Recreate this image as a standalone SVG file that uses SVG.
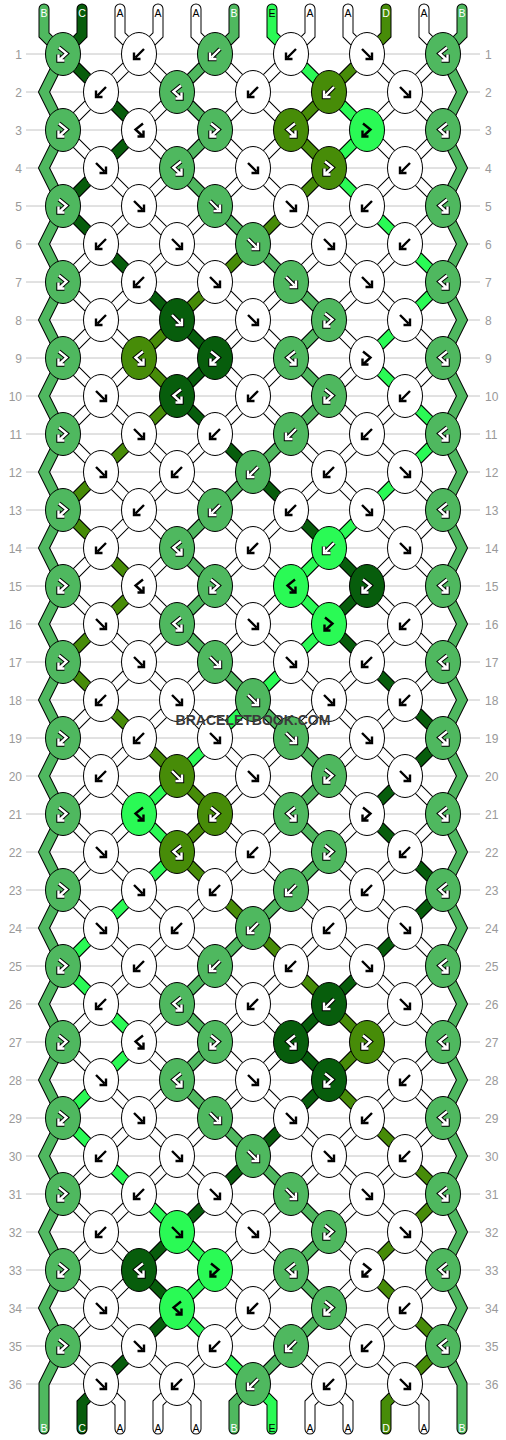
<svg xmlns="http://www.w3.org/2000/svg" width="506" height="1440" viewBox="0 0 506 1440">
<style>
.bg{fill:#fff}
.grid{fill:none;stroke:#c4c4c4;stroke-width:1}
.rl{font-family:"Liberation Sans",Arial,sans-serif;font-size:12px;fill:#999}
.sl{font-family:"Liberation Sans",Arial,sans-serif;font-size:10.5px;text-anchor:middle}
.so{fill:none;stroke:#000;stroke-width:11;stroke-linejoin:miter;stroke-linecap:round}
.sA{fill:none;stroke:#fff;stroke-width:9;stroke-linejoin:miter;stroke-linecap:round}
.sB{fill:none;stroke:#4fb85f;stroke-width:9;stroke-linejoin:miter;stroke-linecap:round}
.sC{fill:none;stroke:#075d0c;stroke-width:9;stroke-linejoin:miter;stroke-linecap:round}
.sD{fill:none;stroke:#478c08;stroke-width:9;stroke-linejoin:miter;stroke-linecap:round}
.sE{fill:none;stroke:#2afa55;stroke-width:9;stroke-linejoin:miter;stroke-linecap:round}
.e{stroke:#000;stroke-width:1}
.cA{fill:#fff}.cB{fill:#4fb85f}.cC{fill:#075d0c}.cD{fill:#478c08}.cE{fill:#2afa55}
.ab{fill:none;stroke:#000;stroke-width:2.4}
.ao{fill:none;stroke:#000;stroke-width:4.4}
.aw{fill:none;stroke:#fff;stroke-width:2.4}
.tw{fill:#fff}.tk{fill:#000}
</style>
<defs>
<clipPath id="band"><rect x="63" y="54" width="380" height="1330"/></clipPath>
<path id="lat" d="M0,1283l506,506M0,1207l506,506M0,1131l506,506M0,1055l506,506M0,979l506,506M0,903l506,506M0,827l506,506M0,751l506,506M0,675l506,506M0,599l506,506M0,523l506,506M0,447l506,506M0,371l506,506M0,295l506,506M0,219l506,506M0,143l506,506M0,67l506,506M0,-9l506,506M0,-85l506,506M0,-161l506,506M0,-237l506,506M0,-313l506,506M0,-389l506,506M0,117l506,-506M0,193l506,-506M0,269l506,-506M0,345l506,-506M0,421l506,-506M0,497l506,-506M0,573l506,-506M0,649l506,-506M0,725l506,-506M0,801l506,-506M0,877l506,-506M0,953l506,-506M0,1029l506,-506M0,1105l506,-506M0,1181l506,-506M0,1257l506,-506M0,1333l506,-506M0,1409l506,-506M0,1485l506,-506M0,1561l506,-506M0,1637l506,-506M0,1713l506,-506M0,1789l506,-506"/>
<path id="gWhite" d="M120,9V35L139,54M158,9V35L139,54M196,9V35L215,54M310,9V35L291,54M348,9V35L367,54M424,9V35L443,54M101,1384L120,1403V1429M177,1384L158,1403V1429M177,1384L196,1403V1429M329,1384L310,1403V1429M329,1384L348,1403V1429M405,1384L424,1403V1429"/>
<path id="gLeft" d="M44,9V35L63,54 44,92 63,130 44,168 63,206 44,244 63,282 44,320 63,358 44,396 63,434 44,472 63,510 44,548 63,586 44,624 63,662 44,700 63,738 44,776 63,814 44,852 63,890 44,928 63,966 44,1004 63,1042 44,1080 63,1118 44,1156 63,1194 44,1232 63,1270 44,1308 63,1346 44,1384V1429"/>
<path id="gRight" d="M462,9V35L443,54 462,92 443,130 462,168 443,206 462,244 443,282 462,320 443,358 462,396 443,434 462,472 443,510 462,548 443,586 462,624 443,662 462,700 443,738 462,776 443,814 462,852 443,890 462,928 443,966 462,1004 443,1042 462,1080 443,1118 462,1156 443,1194 462,1232 443,1270 462,1308 443,1346 462,1384V1429"/>
<path id="gB" d="M234,9V35L215,54 177,92 215,130 177,168 215,206 253,244 291,282 329,320 291,358 329,396 291,434 253,472 215,510 177,548 215,586 177,624 215,662 253,700 291,738 329,776 291,814 329,852 291,890 253,928 215,966 177,1004 215,1042 177,1080 215,1118 253,1156 291,1194 329,1232 291,1270 329,1308 291,1346 253,1384 234,1403V1429"/>
<path id="gC" d="M82,9V35L63,54 101,92 139,130 101,168 63,206 101,244 139,282 177,320 215,358 177,396 215,434 253,472 291,510 329,548 367,586 329,624 367,662 405,700 443,738 405,776 367,814 405,852 443,890 405,928 367,966 329,1004 291,1042 329,1080 291,1118 253,1156 215,1194 177,1232 139,1270 177,1308 139,1346 101,1384 82,1403V1429"/>
<path id="gD" d="M386,9V35L367,54 329,92 291,130 329,168 291,206 253,244 215,282 177,320 139,358 177,396 139,434 101,472 63,510 101,548 139,586 101,624 63,662 101,700 139,738 177,776 215,814 177,852 215,890 253,928 291,966 329,1004 367,1042 329,1080 367,1118 405,1156 443,1194 405,1232 367,1270 405,1308 443,1346 405,1384 386,1403V1429"/>
<path id="gE" d="M272,9V35L291,54 329,92 367,130 329,168 367,206 405,244 443,282 405,320 367,358 405,396 443,434 405,472 367,510 329,548 291,586 329,624 291,662 253,700 215,738 177,776 139,814 177,852 139,890 101,928 63,966 101,1004 139,1042 101,1080 63,1118 101,1156 139,1194 177,1232 215,1270 177,1308 215,1346 253,1384 272,1403V1429"/>
<path id="pF" d="M-5,-5L3.5,3.5M5,-1.5V5H-1.5"/>
<path id="pB" d="M5,-5L-3.5,3.5M-5,-1.5V5H1.5"/>
<path id="pFB" d="M-4,-6.5L3.5,-0.5L-3,5.5M-4.5,0.5V6.5H1.5"/>
<path id="pBF" d="M4,-6.5L-3.5,-0.5L3,5.5M4.5,0.5V6.5H-1.5"/>
<g id="kFa"><ellipse class="e cA" rx="17.5" ry="21.5"/><use href="#pF" class="ab"/></g>
<g id="kBa"><ellipse class="e cA" rx="17.5" ry="21.5"/><use href="#pB" class="ab"/></g>
<g id="kFBa"><ellipse class="e cA" rx="17.5" ry="21.5"/><use href="#pFB" class="ab"/></g>
<g id="kBFa"><ellipse class="e cA" rx="17.5" ry="21.5"/><use href="#pBF" class="ab"/></g>
<g id="kFb"><ellipse class="e cB" rx="17.5" ry="21.5"/><use href="#pF" class="ao"/><use href="#pF" class="aw"/></g>
<g id="kBb"><ellipse class="e cB" rx="17.5" ry="21.5"/><use href="#pB" class="ao"/><use href="#pB" class="aw"/></g>
<g id="kFBb"><ellipse class="e cB" rx="17.5" ry="21.5"/><use href="#pFB" class="ao"/><use href="#pFB" class="aw"/></g>
<g id="kBFb"><ellipse class="e cB" rx="17.5" ry="21.5"/><use href="#pBF" class="ao"/><use href="#pBF" class="aw"/></g>
<g id="kFc"><ellipse class="e cC" rx="17.5" ry="21.5"/><use href="#pF" class="ao"/><use href="#pF" class="aw"/></g>
<g id="kBc"><ellipse class="e cC" rx="17.5" ry="21.5"/><use href="#pB" class="ao"/><use href="#pB" class="aw"/></g>
<g id="kFBc"><ellipse class="e cC" rx="17.5" ry="21.5"/><use href="#pFB" class="ao"/><use href="#pFB" class="aw"/></g>
<g id="kBFc"><ellipse class="e cC" rx="17.5" ry="21.5"/><use href="#pBF" class="ao"/><use href="#pBF" class="aw"/></g>
<g id="kFd"><ellipse class="e cD" rx="17.5" ry="21.5"/><use href="#pF" class="ao"/><use href="#pF" class="aw"/></g>
<g id="kBd"><ellipse class="e cD" rx="17.5" ry="21.5"/><use href="#pB" class="ao"/><use href="#pB" class="aw"/></g>
<g id="kFBd"><ellipse class="e cD" rx="17.5" ry="21.5"/><use href="#pFB" class="ao"/><use href="#pFB" class="aw"/></g>
<g id="kBFd"><ellipse class="e cD" rx="17.5" ry="21.5"/><use href="#pBF" class="ao"/><use href="#pBF" class="aw"/></g>
<g id="kFe"><ellipse class="e cE" rx="17.5" ry="21.5"/><use href="#pF" class="ab"/></g>
<g id="kBe"><ellipse class="e cE" rx="17.5" ry="21.5"/><use href="#pB" class="ao"/><use href="#pB" class="aw"/></g>
<g id="kFBe"><ellipse class="e cE" rx="17.5" ry="21.5"/><use href="#pFB" class="ab"/></g>
<g id="kBFe"><ellipse class="e cE" rx="17.5" ry="21.5"/><use href="#pBF" class="ab"/></g>
</defs>
<rect class="bg" x="0" y="0" width="506" height="1440"/>
<g id="grid">
<path class="grid" d="M26,54H480M26,92H480M26,130H480M26,168H480M26,206H480M26,244H480M26,282H480M26,320H480M26,358H480M26,396H480M26,434H480M26,472H480M26,510H480M26,548H480M26,586H480M26,624H480M26,662H480M26,700H480M26,738H480M26,776H480M26,814H480M26,852H480M26,890H480M26,928H480M26,966H480M26,1004H480M26,1042H480M26,1080H480M26,1118H480M26,1156H480M26,1194H480M26,1232H480M26,1270H480M26,1308H480M26,1346H480M26,1384H480"/>
</g>
<g id="row-labels">
<g class="rl" text-anchor="end">
<text x="22" y="58.5">1</text><text x="22" y="96.5">2</text><text x="22" y="134.5">3</text><text x="22" y="172.5">4</text><text x="22" y="210.5">5</text><text x="22" y="248.5">6</text><text x="22" y="286.5">7</text><text x="22" y="324.5">8</text><text x="22" y="362.5">9</text><text x="22" y="400.5">10</text><text x="22" y="438.5">11</text><text x="22" y="476.5">12</text><text x="22" y="514.5">13</text><text x="22" y="552.5">14</text><text x="22" y="590.5">15</text><text x="22" y="628.5">16</text><text x="22" y="666.5">17</text><text x="22" y="704.5">18</text><text x="22" y="742.5">19</text><text x="22" y="780.5">20</text><text x="22" y="818.5">21</text><text x="22" y="856.5">22</text><text x="22" y="894.5">23</text><text x="22" y="932.5">24</text><text x="22" y="970.5">25</text><text x="22" y="1008.5">26</text><text x="22" y="1046.5">27</text><text x="22" y="1084.5">28</text><text x="22" y="1122.5">29</text><text x="22" y="1160.5">30</text><text x="22" y="1198.5">31</text><text x="22" y="1236.5">32</text><text x="22" y="1274.5">33</text><text x="22" y="1312.5">34</text><text x="22" y="1350.5">35</text><text x="22" y="1388.5">36</text>
</g>
<g class="rl" text-anchor="start">
<text x="485" y="58.5">1</text><text x="485" y="96.5">2</text><text x="485" y="134.5">3</text><text x="485" y="172.5">4</text><text x="485" y="210.5">5</text><text x="485" y="248.5">6</text><text x="485" y="286.5">7</text><text x="485" y="324.5">8</text><text x="485" y="362.5">9</text><text x="485" y="400.5">10</text><text x="485" y="438.5">11</text><text x="485" y="476.5">12</text><text x="485" y="514.5">13</text><text x="485" y="552.5">14</text><text x="485" y="590.5">15</text><text x="485" y="628.5">16</text><text x="485" y="666.5">17</text><text x="485" y="704.5">18</text><text x="485" y="742.5">19</text><text x="485" y="780.5">20</text><text x="485" y="818.5">21</text><text x="485" y="856.5">22</text><text x="485" y="894.5">23</text><text x="485" y="932.5">24</text><text x="485" y="970.5">25</text><text x="485" y="1008.5">26</text><text x="485" y="1046.5">27</text><text x="485" y="1084.5">28</text><text x="485" y="1122.5">29</text><text x="485" y="1160.5">30</text><text x="485" y="1198.5">31</text><text x="485" y="1236.5">32</text><text x="485" y="1274.5">33</text><text x="485" y="1312.5">34</text><text x="485" y="1350.5">35</text><text x="485" y="1388.5">36</text>
</g>
</g>
<g id="connectors">
<g clip-path="url(#band)"><use href="#lat" class="so" style="stroke-linecap:butt"/><use href="#lat" class="sA" style="stroke-linecap:butt"/></g>
<use href="#gWhite" class="so"/><use href="#gWhite" class="sA"/>
<use href="#gLeft" class="so"/><use href="#gLeft" class="sB"/>
<use href="#gRight" class="so"/><use href="#gRight" class="sB"/>
<use href="#gB" class="so"/><use href="#gB" class="sB"/>
<use href="#gC" class="so"/><use href="#gC" class="sC"/>
<use href="#gD" class="so"/><use href="#gD" class="sD"/>
<use href="#gE" class="so"/><use href="#gE" class="sE"/>
</g>
<g id="string-labels">
<text class="sl tw" x="44" y="17">B</text><text class="sl tw" x="82" y="17">C</text><text class="sl tk" x="120" y="17">A</text><text class="sl tk" x="158" y="17">A</text><text class="sl tk" x="196" y="17">A</text><text class="sl tw" x="234" y="17">B</text><text class="sl tk" x="272" y="17">E</text><text class="sl tk" x="310" y="17">A</text><text class="sl tk" x="348" y="17">A</text><text class="sl tw" x="386" y="17">D</text><text class="sl tk" x="424" y="17">A</text><text class="sl tw" x="462" y="17">B</text>
<text class="sl tw" x="44" y="1432">B</text><text class="sl tw" x="82" y="1432">C</text><text class="sl tk" x="120" y="1432">A</text><text class="sl tk" x="158" y="1432">A</text><text class="sl tk" x="196" y="1432">A</text><text class="sl tw" x="234" y="1432">B</text><text class="sl tk" x="272" y="1432">E</text><text class="sl tk" x="310" y="1432">A</text><text class="sl tk" x="348" y="1432">A</text><text class="sl tw" x="386" y="1432">D</text><text class="sl tk" x="424" y="1432">A</text><text class="sl tw" x="462" y="1432">B</text>
</g>
<g id="knots">
<g id="n1-1"><use href="#kFBb" x="63" y="54"/></g><g id="n1-2"><use href="#kBa" x="139" y="54"/></g><g id="n1-3"><use href="#kBb" x="215" y="54"/></g><g id="n1-4"><use href="#kBa" x="291" y="54"/></g><g id="n1-5"><use href="#kFa" x="367" y="54"/></g><g id="n1-6"><use href="#kBFb" x="443" y="54"/></g>
<g id="n2-1"><use href="#kBa" x="101" y="92"/></g><g id="n2-2"><use href="#kBFb" x="177" y="92"/></g><g id="n2-3"><use href="#kBa" x="253" y="92"/></g><g id="n2-4"><use href="#kBd" x="329" y="92"/></g><g id="n2-5"><use href="#kFa" x="405" y="92"/></g>
<g id="n3-1"><use href="#kFBb" x="63" y="130"/></g><g id="n3-2"><use href="#kBFa" x="139" y="130"/></g><g id="n3-3"><use href="#kFBb" x="215" y="130"/></g><g id="n3-4"><use href="#kBFd" x="291" y="130"/></g><g id="n3-5"><use href="#kFBe" x="367" y="130"/></g><g id="n3-6"><use href="#kBFb" x="443" y="130"/></g>
<g id="n4-1"><use href="#kFa" x="101" y="168"/></g><g id="n4-2"><use href="#kBFb" x="177" y="168"/></g><g id="n4-3"><use href="#kFa" x="253" y="168"/></g><g id="n4-4"><use href="#kFBd" x="329" y="168"/></g><g id="n4-5"><use href="#kBa" x="405" y="168"/></g>
<g id="n5-1"><use href="#kFBb" x="63" y="206"/></g><g id="n5-2"><use href="#kFa" x="139" y="206"/></g><g id="n5-3"><use href="#kFb" x="215" y="206"/></g><g id="n5-4"><use href="#kFa" x="291" y="206"/></g><g id="n5-5"><use href="#kBa" x="367" y="206"/></g><g id="n5-6"><use href="#kBFb" x="443" y="206"/></g>
<g id="n6-1"><use href="#kBa" x="101" y="244"/></g><g id="n6-2"><use href="#kFa" x="177" y="244"/></g><g id="n6-3"><use href="#kFb" x="253" y="244"/></g><g id="n6-4"><use href="#kFa" x="329" y="244"/></g><g id="n6-5"><use href="#kBa" x="405" y="244"/></g>
<g id="n7-1"><use href="#kFBb" x="63" y="282"/></g><g id="n7-2"><use href="#kBa" x="139" y="282"/></g><g id="n7-3"><use href="#kFa" x="215" y="282"/></g><g id="n7-4"><use href="#kFb" x="291" y="282"/></g><g id="n7-5"><use href="#kFa" x="367" y="282"/></g><g id="n7-6"><use href="#kBFb" x="443" y="282"/></g>
<g id="n8-1"><use href="#kBa" x="101" y="320"/></g><g id="n8-2"><use href="#kFc" x="177" y="320"/></g><g id="n8-3"><use href="#kFa" x="253" y="320"/></g><g id="n8-4"><use href="#kFBb" x="329" y="320"/></g><g id="n8-5"><use href="#kFa" x="405" y="320"/></g>
<g id="n9-1"><use href="#kFBb" x="63" y="358"/></g><g id="n9-2"><use href="#kBFd" x="139" y="358"/></g><g id="n9-3"><use href="#kFBc" x="215" y="358"/></g><g id="n9-4"><use href="#kBFb" x="291" y="358"/></g><g id="n9-5"><use href="#kFBa" x="367" y="358"/></g><g id="n9-6"><use href="#kBFb" x="443" y="358"/></g>
<g id="n10-1"><use href="#kFa" x="101" y="396"/></g><g id="n10-2"><use href="#kBFc" x="177" y="396"/></g><g id="n10-3"><use href="#kBa" x="253" y="396"/></g><g id="n10-4"><use href="#kFBb" x="329" y="396"/></g><g id="n10-5"><use href="#kBa" x="405" y="396"/></g>
<g id="n11-1"><use href="#kFBb" x="63" y="434"/></g><g id="n11-2"><use href="#kFa" x="139" y="434"/></g><g id="n11-3"><use href="#kBa" x="215" y="434"/></g><g id="n11-4"><use href="#kBb" x="291" y="434"/></g><g id="n11-5"><use href="#kBa" x="367" y="434"/></g><g id="n11-6"><use href="#kBFb" x="443" y="434"/></g>
<g id="n12-1"><use href="#kFa" x="101" y="472"/></g><g id="n12-2"><use href="#kBa" x="177" y="472"/></g><g id="n12-3"><use href="#kBb" x="253" y="472"/></g><g id="n12-4"><use href="#kBa" x="329" y="472"/></g><g id="n12-5"><use href="#kFa" x="405" y="472"/></g>
<g id="n13-1"><use href="#kFBb" x="63" y="510"/></g><g id="n13-2"><use href="#kBa" x="139" y="510"/></g><g id="n13-3"><use href="#kBb" x="215" y="510"/></g><g id="n13-4"><use href="#kBa" x="291" y="510"/></g><g id="n13-5"><use href="#kFa" x="367" y="510"/></g><g id="n13-6"><use href="#kBFb" x="443" y="510"/></g>
<g id="n14-1"><use href="#kBa" x="101" y="548"/></g><g id="n14-2"><use href="#kBFb" x="177" y="548"/></g><g id="n14-3"><use href="#kBa" x="253" y="548"/></g><g id="n14-4"><use href="#kBe" x="329" y="548"/></g><g id="n14-5"><use href="#kFa" x="405" y="548"/></g>
<g id="n15-1"><use href="#kFBb" x="63" y="586"/></g><g id="n15-2"><use href="#kBFa" x="139" y="586"/></g><g id="n15-3"><use href="#kFBb" x="215" y="586"/></g><g id="n15-4"><use href="#kBFe" x="291" y="586"/></g><g id="n15-5"><use href="#kFBc" x="367" y="586"/></g><g id="n15-6"><use href="#kBFb" x="443" y="586"/></g>
<g id="n16-1"><use href="#kFa" x="101" y="624"/></g><g id="n16-2"><use href="#kBFb" x="177" y="624"/></g><g id="n16-3"><use href="#kFa" x="253" y="624"/></g><g id="n16-4"><use href="#kFBe" x="329" y="624"/></g><g id="n16-5"><use href="#kBa" x="405" y="624"/></g>
<g id="n17-1"><use href="#kFBb" x="63" y="662"/></g><g id="n17-2"><use href="#kFa" x="139" y="662"/></g><g id="n17-3"><use href="#kFb" x="215" y="662"/></g><g id="n17-4"><use href="#kFa" x="291" y="662"/></g><g id="n17-5"><use href="#kBa" x="367" y="662"/></g><g id="n17-6"><use href="#kBFb" x="443" y="662"/></g>
<g id="n18-1"><use href="#kBa" x="101" y="700"/></g><g id="n18-2"><use href="#kFa" x="177" y="700"/></g><g id="n18-3"><use href="#kFb" x="253" y="700"/></g><g id="n18-4"><use href="#kFa" x="329" y="700"/></g><g id="n18-5"><use href="#kBa" x="405" y="700"/></g>
<g id="n19-1"><use href="#kFBb" x="63" y="738"/></g><g id="n19-2"><use href="#kBa" x="139" y="738"/></g><g id="n19-3"><use href="#kFa" x="215" y="738"/></g><g id="n19-4"><use href="#kFb" x="291" y="738"/></g><g id="n19-5"><use href="#kFa" x="367" y="738"/></g><g id="n19-6"><use href="#kBFb" x="443" y="738"/></g>
<g id="n20-1"><use href="#kBa" x="101" y="776"/></g><g id="n20-2"><use href="#kFd" x="177" y="776"/></g><g id="n20-3"><use href="#kFa" x="253" y="776"/></g><g id="n20-4"><use href="#kFBb" x="329" y="776"/></g><g id="n20-5"><use href="#kFa" x="405" y="776"/></g>
<g id="n21-1"><use href="#kFBb" x="63" y="814"/></g><g id="n21-2"><use href="#kBFe" x="139" y="814"/></g><g id="n21-3"><use href="#kFBd" x="215" y="814"/></g><g id="n21-4"><use href="#kBFb" x="291" y="814"/></g><g id="n21-5"><use href="#kFBa" x="367" y="814"/></g><g id="n21-6"><use href="#kBFb" x="443" y="814"/></g>
<g id="n22-1"><use href="#kFa" x="101" y="852"/></g><g id="n22-2"><use href="#kBFd" x="177" y="852"/></g><g id="n22-3"><use href="#kBa" x="253" y="852"/></g><g id="n22-4"><use href="#kFBb" x="329" y="852"/></g><g id="n22-5"><use href="#kBa" x="405" y="852"/></g>
<g id="n23-1"><use href="#kFBb" x="63" y="890"/></g><g id="n23-2"><use href="#kFa" x="139" y="890"/></g><g id="n23-3"><use href="#kBa" x="215" y="890"/></g><g id="n23-4"><use href="#kBb" x="291" y="890"/></g><g id="n23-5"><use href="#kBa" x="367" y="890"/></g><g id="n23-6"><use href="#kBFb" x="443" y="890"/></g>
<g id="n24-1"><use href="#kFa" x="101" y="928"/></g><g id="n24-2"><use href="#kBa" x="177" y="928"/></g><g id="n24-3"><use href="#kBb" x="253" y="928"/></g><g id="n24-4"><use href="#kBa" x="329" y="928"/></g><g id="n24-5"><use href="#kFa" x="405" y="928"/></g>
<g id="n25-1"><use href="#kFBb" x="63" y="966"/></g><g id="n25-2"><use href="#kBa" x="139" y="966"/></g><g id="n25-3"><use href="#kBb" x="215" y="966"/></g><g id="n25-4"><use href="#kBa" x="291" y="966"/></g><g id="n25-5"><use href="#kFa" x="367" y="966"/></g><g id="n25-6"><use href="#kBFb" x="443" y="966"/></g>
<g id="n26-1"><use href="#kBa" x="101" y="1004"/></g><g id="n26-2"><use href="#kBFb" x="177" y="1004"/></g><g id="n26-3"><use href="#kBa" x="253" y="1004"/></g><g id="n26-4"><use href="#kBc" x="329" y="1004"/></g><g id="n26-5"><use href="#kFa" x="405" y="1004"/></g>
<g id="n27-1"><use href="#kFBb" x="63" y="1042"/></g><g id="n27-2"><use href="#kBFa" x="139" y="1042"/></g><g id="n27-3"><use href="#kFBb" x="215" y="1042"/></g><g id="n27-4"><use href="#kBFc" x="291" y="1042"/></g><g id="n27-5"><use href="#kFBd" x="367" y="1042"/></g><g id="n27-6"><use href="#kBFb" x="443" y="1042"/></g>
<g id="n28-1"><use href="#kFa" x="101" y="1080"/></g><g id="n28-2"><use href="#kBFb" x="177" y="1080"/></g><g id="n28-3"><use href="#kFa" x="253" y="1080"/></g><g id="n28-4"><use href="#kFBc" x="329" y="1080"/></g><g id="n28-5"><use href="#kBa" x="405" y="1080"/></g>
<g id="n29-1"><use href="#kFBb" x="63" y="1118"/></g><g id="n29-2"><use href="#kFa" x="139" y="1118"/></g><g id="n29-3"><use href="#kFb" x="215" y="1118"/></g><g id="n29-4"><use href="#kFa" x="291" y="1118"/></g><g id="n29-5"><use href="#kBa" x="367" y="1118"/></g><g id="n29-6"><use href="#kBFb" x="443" y="1118"/></g>
<g id="n30-1"><use href="#kBa" x="101" y="1156"/></g><g id="n30-2"><use href="#kFa" x="177" y="1156"/></g><g id="n30-3"><use href="#kFb" x="253" y="1156"/></g><g id="n30-4"><use href="#kFa" x="329" y="1156"/></g><g id="n30-5"><use href="#kBa" x="405" y="1156"/></g>
<g id="n31-1"><use href="#kFBb" x="63" y="1194"/></g><g id="n31-2"><use href="#kBa" x="139" y="1194"/></g><g id="n31-3"><use href="#kFa" x="215" y="1194"/></g><g id="n31-4"><use href="#kFb" x="291" y="1194"/></g><g id="n31-5"><use href="#kFa" x="367" y="1194"/></g><g id="n31-6"><use href="#kBFb" x="443" y="1194"/></g>
<g id="n32-1"><use href="#kBa" x="101" y="1232"/></g><g id="n32-2"><use href="#kFe" x="177" y="1232"/></g><g id="n32-3"><use href="#kFa" x="253" y="1232"/></g><g id="n32-4"><use href="#kFBb" x="329" y="1232"/></g><g id="n32-5"><use href="#kFa" x="405" y="1232"/></g>
<g id="n33-1"><use href="#kFBb" x="63" y="1270"/></g><g id="n33-2"><use href="#kBFc" x="139" y="1270"/></g><g id="n33-3"><use href="#kFBe" x="215" y="1270"/></g><g id="n33-4"><use href="#kBFb" x="291" y="1270"/></g><g id="n33-5"><use href="#kFBa" x="367" y="1270"/></g><g id="n33-6"><use href="#kBFb" x="443" y="1270"/></g>
<g id="n34-1"><use href="#kFa" x="101" y="1308"/></g><g id="n34-2"><use href="#kBFe" x="177" y="1308"/></g><g id="n34-3"><use href="#kBa" x="253" y="1308"/></g><g id="n34-4"><use href="#kFBb" x="329" y="1308"/></g><g id="n34-5"><use href="#kBa" x="405" y="1308"/></g>
<g id="n35-1"><use href="#kFBb" x="63" y="1346"/></g><g id="n35-2"><use href="#kFa" x="139" y="1346"/></g><g id="n35-3"><use href="#kBa" x="215" y="1346"/></g><g id="n35-4"><use href="#kBb" x="291" y="1346"/></g><g id="n35-5"><use href="#kBa" x="367" y="1346"/></g><g id="n35-6"><use href="#kBFb" x="443" y="1346"/></g>
<g id="n36-1"><use href="#kFa" x="101" y="1384"/></g><g id="n36-2"><use href="#kBa" x="177" y="1384"/></g><g id="n36-3"><use href="#kBb" x="253" y="1384"/></g><g id="n36-4"><use href="#kBa" x="329" y="1384"/></g><g id="n36-5"><use href="#kFa" x="405" y="1384"/></g>
</g>
<text id="watermark" x="253" y="725" font-family="'Liberation Sans',Arial,sans-serif" font-weight="bold" font-size="14" text-anchor="middle" fill="#3a3a3a">BRACELETBOOK.COM</text>
</svg>
